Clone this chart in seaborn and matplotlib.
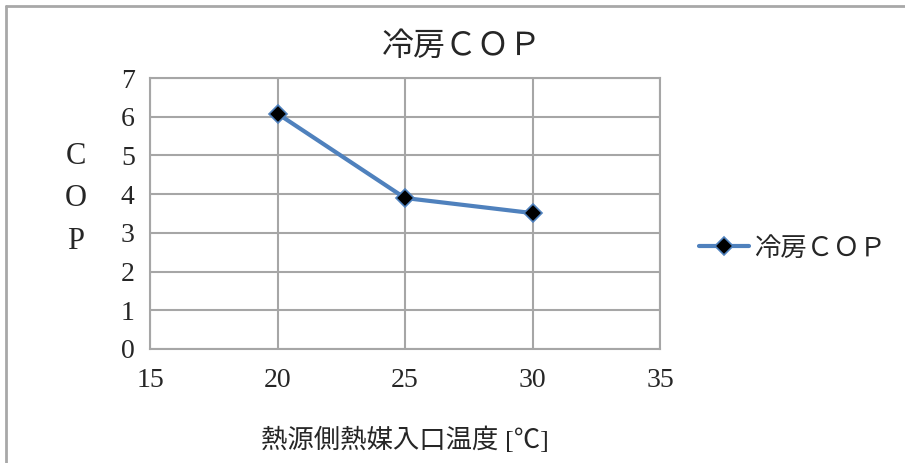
import matplotlib
matplotlib.use("Agg")
import matplotlib.pyplot as plt
import seaborn as sns
import pandas as pd
from matplotlib.lines import Line2D

# data
temps = [20, 25, 30]
cop_values = [6.08, 3.9, 3.51]
series_name = "冷房ＣＯＰ"
x_ticks = [15, 20, 25, 30, 35]
y_ticks = [0, 1, 2, 3, 4, 5, 6, 7]

df = pd.DataFrame({"temp": temps, "cop": cop_values, "series": series_name})

sns.set_style("white")
plt.rcParams["font.family"] = ["Liberation Serif", "Noto Sans CJK JP", "DejaVu Sans"]

fig = plt.figure(figsize=(9.05, 4.63), dpi=100)
ax = fig.add_axes([150 / 905, 1 - 349 / 463, 510 / 905, 271 / 463])

# chart-area frame (only top and left edges are visible in the crop)
frame_x = 6 / 905
frame_y = 1 - 6 / 463
fig.add_artist(Line2D([frame_x, 1], [frame_y, frame_y], transform=fig.transFigure,
                      color="#a8a8a8", linewidth=2))
fig.add_artist(Line2D([frame_x, frame_x], [0, frame_y], transform=fig.transFigure,
                      color="#a8a8a8", linewidth=2))

sns.lineplot(data=df, x="temp", y="cop", hue="series", palette=["#4F81BD"],
             marker="D", markersize=9, markerfacecolor="black",
             markeredgecolor="#4F81BD", markeredgewidth=1.2,
             linewidth=3, ax=ax)

ax.set_xlim(15, 35)
ax.set_ylim(0, 7)
ax.set_xticks(x_ticks)
ax.set_yticks(y_ticks)
ax.grid(True, color="#a6a6a6", linewidth=1.5)
ax.set_axisbelow(True)
for s in ax.spines.values():
    s.set_color("#a6a6a6")
    s.set_linewidth(1.5)
ax.tick_params(axis="both", length=6, width=1.5, color="#a6a6a6",
               labelsize=20)
ax.tick_params(axis="x", pad=8)
ax.tick_params(axis="y", pad=5)

ax.set_xlabel("熱源側熱媒入口温度 [℃]", fontsize=19, labelpad=24)
ax.set_ylabel("")
fig.text(76 / 905, 1 - 199 / 463, "C\nO\nP", fontsize=22, ha="center",
         va="center", linespacing=1.6)
fig.text(462 / 905, 1 - 47 / 463, series_name, fontsize=23, ha="center",
         va="center")

leg = ax.legend(loc="center left", bbox_to_anchor=(1.03, 0.37), frameon=False,
                fontsize=19, handlelength=1.9, handletextpad=0.2)

fig.savefig("out.png", dpi=100)
